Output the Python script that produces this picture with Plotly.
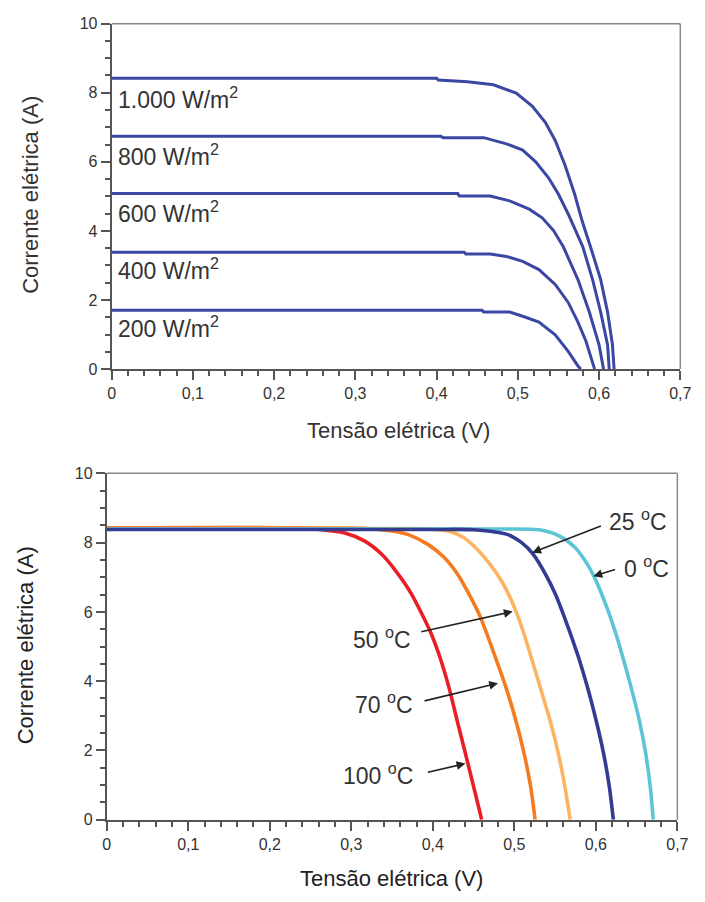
import plotly.graph_objects as go

# ---------------- Top chart: irradiance (W/m2) ----------------
irr_labels = ["1.000 W/m<sup>2</sup>", "800 W/m<sup>2</sup>", "600 W/m<sup>2</sup>",
              "400 W/m<sup>2</sup>", "200 W/m<sup>2</sup>"]
label_y = [7.85, 6.20, 4.55, 2.89, 1.23]

v_1000 = [0, 0.400, 0.402, 0.438, 0.470, 0.498, 0.518, 0.534, 0.546, 0.558, 0.570, 0.579, 0.590, 0.602, 0.6105, 0.6165, 0.6185]
i_1000 = [8.42, 8.42, 8.37, 8.32, 8.23, 7.99, 7.61, 7.14, 6.62, 5.91, 5.06, 4.30, 3.50, 2.59, 1.65, 0.70, 0]
v_800 = [0, 0.405, 0.408, 0.458, 0.486, 0.506, 0.522, 0.538, 0.550, 0.562, 0.580, 0.592, 0.602, 0.6105, 0.6125]
i_800 = [6.74, 6.74, 6.70, 6.70, 6.52, 6.34, 6.00, 5.53, 5.06, 4.49, 3.54, 2.59, 1.65, 0.70, 0]
v_600 = [0, 0.426, 0.428, 0.466, 0.490, 0.514, 0.530, 0.544, 0.556, 0.574, 0.588, 0.600, 0.6055]
i_600 = [5.08, 5.08, 5.01, 5.01, 4.87, 4.63, 4.38, 4.01, 3.54, 2.59, 1.65, 0.70, 0]
v_400 = [0, 0.434, 0.436, 0.466, 0.486, 0.506, 0.526, 0.546, 0.562, 0.574, 0.584, 0.592, 0.5945]
i_400 = [3.38, 3.38, 3.33, 3.33, 3.26, 3.12, 2.88, 2.45, 1.93, 1.36, 0.80, 0.23, 0]
v_200 = [0, 0.456, 0.458, 0.490, 0.506, 0.526, 0.546, 0.562, 0.574, 0.5775]
i_200 = [1.70, 1.70, 1.65, 1.65, 1.53, 1.36, 0.99, 0.51, 0.09, 0]
top_v = [v_1000, v_800, v_600, v_400, v_200]
top_i = [i_1000, i_800, i_600, i_400, i_200]

# ---------------- Bottom chart: temperature ----------------
temp_names = ["100 ºC", "70 ºC", "50 ºC", "0 ºC", "25 ºC"]
temp_colors = ["#ea1f26", "#f47b20", "#fdb462", "#5cc5d5", "#323c92"]
v_100 = [0, 0.222, 0.258, 0.292, 0.316, 0.337, 0.354, 0.3735, 0.3975, 0.408, 0.420, 0.430, 0.440, 0.450, 0.460]
i_100 = [8.43, 8.43, 8.39, 8.28, 8.05, 7.67, 7.20, 6.53, 5.40, 4.74, 3.80, 2.85, 1.91, 0.96, 0]
v_70 = [0, 0.300, 0.330, 0.352, 0.370, 0.394, 0.414, 0.430, 0.446, 0.458, 0.476, 0.490, 0.502, 0.512, 0.520, 0.5255]
i_70 = [8.42, 8.42, 8.39, 8.33, 8.23, 7.95, 7.57, 7.10, 6.44, 5.87, 4.74, 3.80, 2.85, 1.91, 0.96, 0]
v_50 = [0, 0.380, 0.400, 0.420, 0.436, 0.450, 0.470, 0.486, 0.498, 0.510, 0.520, 0.532, 0.544, 0.554, 0.562, 0.5685]
i_50 = [8.41, 8.41, 8.39, 8.33, 8.17, 7.91, 7.38, 6.82, 6.25, 5.50, 4.74, 3.80, 2.85, 1.91, 0.96, 0]
v_0 = [0, 0.460, 0.530, 0.5555, 0.5745, 0.5895, 0.600, 0.613, 0.6235, 0.6325, 0.6435, 0.6535, 0.6612, 0.6667, 0.6705]
i_0 = [8.39, 8.39, 8.37, 8.19, 7.86, 7.38, 6.91, 6.16, 5.45, 4.74, 3.80, 2.85, 1.91, 0.96, 0]
v_25 = [0, 0.400, 0.450, 0.492, 0.509, 0.523, 0.538, 0.550, 0.5625, 0.578, 0.590, 0.6005, 0.6095, 0.6165, 0.6215]
i_25 = [8.38, 8.38, 8.37, 8.23, 8.00, 7.67, 7.10, 6.53, 5.78, 4.74, 3.80, 2.85, 1.91, 0.96, 0]
bot_v = [v_100, v_70, v_50, v_0, v_25]
bot_i = [i_100, i_70, i_50, i_0, i_25]

# label text position and arrow (tail -> head)
temp_label_text = ["100 <sup>o</sup>C", "70 <sup>o</sup>C", "50 <sup>o</sup>C", "0 <sup>o</sup>C", "25 <sup>o</sup>C"]
temp_label_x = [0.378, 0.378, 0.376, 0.632, 0.614]
temp_label_y = [1.32, 3.37, 5.26, 7.29, 8.66]
temp_label_anchor = ["right", "right", "right", "left", "left"]
arrow_tail_x = [0.392, 0.388, 0.384, 0.6255, 0.608]
arrow_tail_y = [1.36, 3.42, 5.42, 7.24, 8.50]
arrow_head_x = [0.440, 0.480, 0.498, 0.597, 0.522]
arrow_head_y = [1.62, 3.94, 6.01, 7.03, 7.71]

x_ticks = [0, 0.1, 0.2, 0.3, 0.4, 0.5, 0.6, 0.7]
x_tick_text = ["0", "0,1", "0,2", "0,3", "0,4", "0,5", "0,6", "0,7"]
y_ticks = [0, 2, 4, 6, 8, 10]

W, H = 705, 902
FONT = "Liberation Sans, Arial, sans-serif"
TXT = "#333333"

fig = go.Figure()
for v, i in zip(top_v, top_i):
    fig.add_trace(go.Scatter(x=v, y=i, mode="lines", xaxis="x", yaxis="y",
                             line=dict(color="#3a47a3", width=3), showlegend=False))
for v, i, c in zip(bot_v, bot_i, temp_colors):
    fig.add_trace(go.Scatter(x=v, y=i, mode="lines", xaxis="x2", yaxis="y2",
                             line=dict(color=c, width=3.6, shape="spline", smoothing=0.7),
                             showlegend=False))

def xax(domain, anchor):
    return dict(domain=domain, anchor=anchor, range=[0, 0.7], tickmode="array",
                tickvals=x_ticks, ticktext=x_tick_text, ticks="outside", ticklen=9,
                tickwidth=2, tickcolor="#555", showline=True, linecolor="#555",
                linewidth=2, showgrid=False, zeroline=False,
                tickfont=dict(family=FONT, size=16, color=TXT),
                minor=dict(tickmode="linear", tick0=0, dtick=0.02, ticks="outside",
                           ticklen=5, tickwidth=1.5, tickcolor="#555", showgrid=False))

def yax(domain, anchor):
    return dict(domain=domain, anchor=anchor, range=[0, 10], tickmode="array",
                tickvals=y_ticks, ticks="outside", ticklen=9, tickwidth=2,
                tickcolor="#555", showline=True, linecolor="#555", linewidth=2,
                showgrid=False, zeroline=False,
                tickfont=dict(family=FONT, size=16, color=TXT),
                minor=dict(tickmode="linear", tick0=0, dtick=0.5, ticks="outside",
                           ticklen=5, tickwidth=1.5, tickcolor="#555", showgrid=False))

top_xd = [110 / W, 691 / W]
top_yd = [1 - 368 / H, 1 - 16 / H]
bot_xd = [105 / W, 688 / W]
bot_yd = [1 - 827.3 / H, 1 - 474.3 / H]

annotations = []
for t, y in zip(irr_labels, label_y):
    annotations.append(dict(x=0.005, y=y, xref="x", yref="y", text=t, showarrow=False,
                            xanchor="left", yanchor="middle",
                            font=dict(family=FONT, size=23, color=TXT)))
for t, x, y, a in zip(temp_label_text, temp_label_x, temp_label_y, temp_label_anchor):
    annotations.append(dict(x=x, y=y, xref="x2", yref="y2", text=t, showarrow=False,
                            xanchor=a, yanchor="middle",
                            font=dict(family=FONT, size=23, color=TXT)))
for tx, ty, hx, hy in zip(arrow_tail_x, arrow_tail_y, arrow_head_x, arrow_head_y):
    annotations.append(dict(x=hx, y=hy, ax=tx, ay=ty, xref="x2", yref="y2",
                            axref="x2", ayref="y2", text="", showarrow=True,
                            arrowhead=2, arrowsize=1.1, arrowwidth=1.6,
                            arrowcolor="#222222", standoff=0, startstandoff=0))
# axis titles
annotations += [
    dict(x=403 / W, y=1 - 431 / H, xref="paper", yref="paper", text="Tensão elétrica (V)",
         showarrow=False, xanchor="center", yanchor="middle",
         font=dict(family=FONT, size=22, color=TXT)),
    dict(x=27 / W, y=1 - 190 / H, xref="paper", yref="paper", text="Corrente elétrica (A)",
         showarrow=False, xanchor="center", yanchor="middle", textangle=-90,
         font=dict(family=FONT, size=22, color=TXT)),
    dict(x=396 / W, y=1 - 887 / H, xref="paper", yref="paper", text="Tensão elétrica (V)",
         showarrow=False, xanchor="center", yanchor="middle",
         font=dict(family=FONT, size=22, color="#222222")),
    dict(x=22 / W, y=1 - 650 / H, xref="paper", yref="paper", text="Corrente elétrica (A)",
         showarrow=False, xanchor="center", yanchor="middle", textangle=-90,
         font=dict(family=FONT, size=22, color="#222222")),
]

shapes = []
for xd, yd in [(top_xd, top_yd), (bot_xd, bot_yd)]:
    shapes.append(dict(type="line", xref="paper", yref="paper", x0=xd[0], x1=xd[1],
                       y0=yd[1], y1=yd[1], line=dict(color="#888888", width=1.5)))
    shapes.append(dict(type="line", xref="paper", yref="paper", x0=xd[1], x1=xd[1],
                       y0=yd[0], y1=yd[1], line=dict(color="#888888", width=1.5)))

fig.update_layout(
    width=W, height=H, margin=dict(l=0, r=0, t=0, b=0),
    paper_bgcolor="white", plot_bgcolor="white",
    xaxis=xax(top_xd, "y"), yaxis=yax(top_yd, "x"),
    xaxis2=xax(bot_xd, "y2"), yaxis2=yax(bot_yd, "x2"),
    annotations=annotations, shapes=shapes, showlegend=False,
)

fig.write_html("out.html")
